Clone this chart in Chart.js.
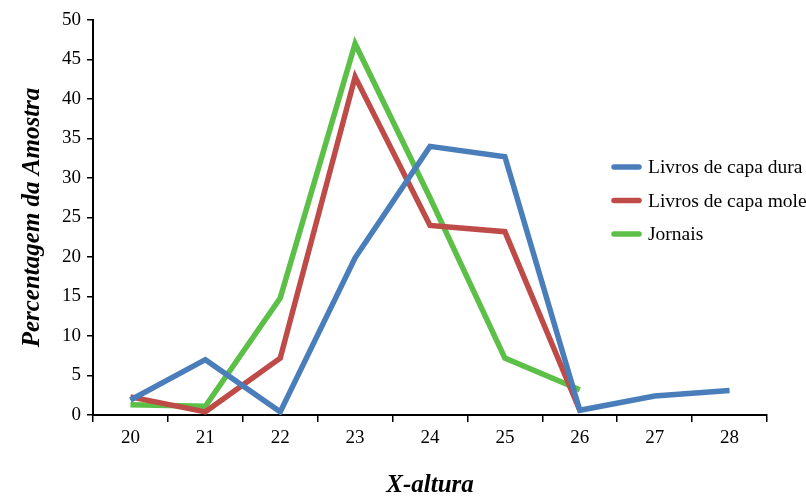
<!DOCTYPE html>
<html><head><meta charset="utf-8">
<script src="https://cdn.jsdelivr.net/npm/chart.js@4/dist/chart.umd.min.js"></script>
<style>html,body{margin:0;padding:0;background:#fff}#wrap{width:806px;height:499px}</style>
</head><body><div id="wrap"><canvas id="c" width="806" height="499"></canvas></div>
<script>
const categories = ['20','21','22','23','24','25','26','27','28'];
const capaDura = [1.9, 7.0, 0.4, 19.9, 34.0, 32.7, 0.6, 2.4, 3.1];
const capaMole = [2.3, 0.4, 7.2, 42.8, 24.0, 23.2, 0.6, null, null];
const jornais  = [1.3, 1.1, 14.8, 47.0, 27.5, 7.2, 3.2, null, null];
const seriesNames = ['Livros de capa dura', 'Livros de capa mole', 'Jornais'];
const colors = ['#4a7ebb', '#be4b48', '#5cbf47'];
const FONT = '"Liberation Serif", "DejaVu Serif", serif';

const legendPlugin = {
  id: 'customLegend',
  afterDraw(chart) {
    const ctx = chart.ctx;
    const a = chart.chartArea;
    const x0 = a.right - 155, y0 = a.top + 147, dy = 33.5;
    ctx.save();
    ctx.font = '19.5px ' + FONT;
    ctx.textBaseline = 'middle';
    chart.data.datasets.forEach((ds, i) => {
      const y = y0 + i * dy;
      ctx.strokeStyle = ds.borderColor;
      ctx.lineWidth = 5.5;
      ctx.lineCap = 'round';
      ctx.beginPath(); ctx.moveTo(x0 + 2, y); ctx.lineTo(x0 + 27, y); ctx.stroke();
      ctx.fillStyle = '#000';
      ctx.fillText(ds.label, x0 + 36, y + 1);
    });
    ctx.restore();
  }
};

new Chart(document.getElementById('c'), {
  type: 'line',
  data: {
    labels: categories,
    datasets: [
      { label: seriesNames[0], data: capaDura, borderColor: colors[0] },
      { label: seriesNames[1], data: capaMole, borderColor: colors[1] },
      { label: seriesNames[2], data: jornais, borderColor: colors[2] }
    ].map(d => Object.assign(d, { borderWidth: 5.5, pointRadius: 0, tension: 0, fill: false, spanGaps: false, borderJoinStyle: 'miter' }))
  },
  options: {
    responsive: false,
    animation: false,
    layout: { padding: { top: 20, right: 39, left: 0, bottom: 0 } },
    plugins: { legend: { display: false }, tooltip: { enabled: false } },
    scales: {
      x: {
        type: 'category',
        offset: true,
        grid: { display: true, drawOnChartArea: false, drawTicks: true, tickLength: 7, offset: true, color: '#000', lineWidth: 1.5 },
        border: { display: true, color: '#000', width: 2 },
        ticks: { color: '#000', font: { family: FONT, size: 19 }, padding: 5, maxRotation: 0 },
        title: { display: true, text: 'X-altura', color: '#000', font: { family: FONT, size: 25, weight: 'bold', style: 'italic' }, padding: { top: 0, bottom: -2 } },
        afterFit(s) { s.height = 84; }
      },
      y: {
        min: 0, max: 50,
        grid: { display: true, drawOnChartArea: false, drawTicks: true, tickLength: 6, color: '#000', lineWidth: 1.5 },
        border: { display: true, color: '#000', width: 2 },
        ticks: { stepSize: 5, color: '#000', font: { family: FONT, size: 19 }, padding: 6 },
        title: { display: true, text: 'Percentagem da Amostra', color: '#000', font: { family: FONT, size: 25, weight: 'bold', style: 'italic' }, padding: { top: 18, bottom: 8 } },
        afterFit(s) { s.width = 93; }
      }
    }
  },
  plugins: [legendPlugin]
});
</script>
</body></html>
